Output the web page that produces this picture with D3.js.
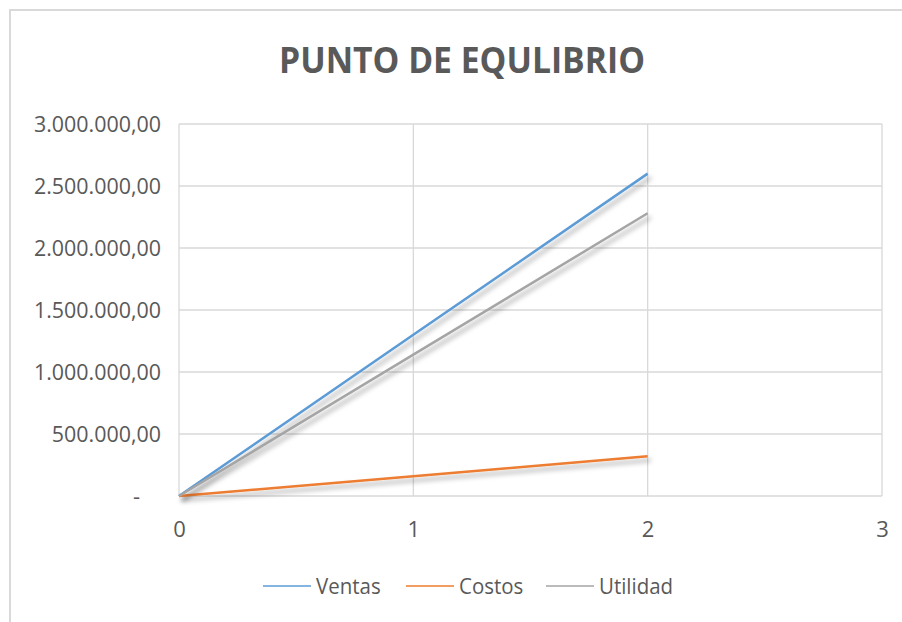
<!DOCTYPE html>
<html>
<head>
<meta charset="utf-8">
<script src="https://cdn.jsdelivr.net/npm/d3@7/dist/d3.min.js"></script>
<style>
  html, body { margin: 0; padding: 0; background: #ffffff; }
  svg { display: block; }
  text { font-family: "Open Sans", "Liberation Sans", sans-serif; fill: #595959; }
</style>
</head>
<body>
<svg id="chart" width="902" height="622"></svg>
<script>
// Break-even chart: sales, costs and profit at 0, 1 and 2 units of volume
const xValues = [0, 1, 2];
const seriesNames = ["Ventas", "Costos", "Utilidad"];
const ventas = [0, 1300000, 2600000];
const costos = [0, 160000, 320000];
const utilidad = [0, 1140000, 2280000];
const xTicks = [0, 1, 2, 3];
const yTicks = [0, 500000, 1000000, 1500000, 2000000, 2500000, 3000000];
const title = "PUNTO DE EQULIBRIO";

const colors = { Ventas: "#5B9BD5", Costos: "#ED7D31", Utilidad: "#A5A5A5" };
const seriesValues = { Ventas: ventas, Costos: costos, Utilidad: utilidad };

const svg = d3.select("#chart");
const W = 902, H = 622;

// condense a text element horizontally by factor k
function condense(sel, k) {
  sel.each(function () {
    const w = this.getComputedTextLength();
    d3.select(this).attr("textLength", w * k).attr("lengthAdjust", "spacingAndGlyphs");
  });
}

// chart frame (only top and left edges fall inside the view)
svg.append("rect")
  .attr("x", 10).attr("y", 10)
  .attr("width", W + 20).attr("height", H + 20)
  .attr("fill", "#ffffff")
  .attr("stroke", "#d9d9d9").attr("stroke-width", 2);

const plot = { left: 179, right: 882, top: 124, bottom: 496 };

const x = d3.scaleLinear().domain([0, 3]).range([plot.left, plot.right]);
const y = d3.scaleLinear().domain([0, 3000000]).range([plot.bottom, plot.top]);

// drop shadow used by the series lines
const defs = svg.append("defs");
const f = defs.append("filter").attr("id", "shadow")
  .attr("x", "-10%").attr("y", "-10%").attr("width", "130%").attr("height", "140%");
f.append("feDropShadow")
  .attr("dx", 3).attr("dy", 4).attr("stdDeviation", 2.5)
  .attr("flood-color", "#000").attr("flood-opacity", 0.35);

// title
svg.append("text")
  .attr("x", 462).attr("y", 73)
  .attr("text-anchor", "middle")
  .attr("font-size", 36).attr("font-weight", "bold")
  .attr("textLength", 366).attr("lengthAdjust", "spacingAndGlyphs")
  .text(title);

// gridlines
const grid = svg.append("g");
grid.selectAll("line.h").data(yTicks).join("line")
  .attr("x1", plot.left).attr("x2", plot.right)
  .attr("y1", d => y(d)).attr("y2", d => y(d))
  .attr("stroke", "#d9d9d9").attr("stroke-width", 1.3);
grid.selectAll("line.v").data(xTicks).join("line")
  .attr("x1", d => x(d)).attr("x2", d => x(d))
  .attr("y1", plot.top).attr("y2", plot.bottom)
  .attr("stroke", "#d9d9d9").attr("stroke-width", 1.3);

// number format: 2.500.000,00 with "-" for zero
const es = d3.formatLocale({ decimal: ",", thousands: ".", grouping: [3], currency: ["", ""] });
const fmt = es.format(",.2f");
const yFormat = d => d === 0 ? "-" : fmt(d);

// y axis
const yAxis = svg.append("g")
  .attr("transform", `translate(${plot.left - 18},0)`)
  .call(d3.axisLeft(y).tickValues(yTicks).tickFormat(yFormat).tickSize(0).tickPadding(0));
yAxis.select(".domain").remove();
const yText = yAxis.selectAll("text")
  .attr("font-size", 22)
  .attr("dy", "0.36em")
  .attr("font-family", null);
// fit the widest label to its measured width
const widest = d3.max(yText.nodes(), n => n.getComputedTextLength());
const ky = 127 / widest;
yText.filter(d => d !== 0).call(condense, ky);
yText.filter(d => d === 0).attr("x", -21);

// x axis
const xAxis = svg.append("g")
  .attr("transform", `translate(0,${plot.bottom})`)
  .call(d3.axisBottom(x).tickValues(xTicks).tickFormat(d3.format("d")).tickSize(0).tickPadding(0));
xAxis.select(".domain").remove();
xAxis.selectAll("text")
  .attr("font-size", 22)
  .attr("y", 41)
  .attr("dy", 0);
svg.selectAll(".tick text").attr("font-family", null).attr("fill", "#595959");

// series lines
const line = d3.line().x((d, i) => x(xValues[i])).y(d => y(d));
const lines = svg.append("g");
seriesNames.forEach(name => {
  lines.append("path")
    .datum(seriesValues[name])
    .attr("d", line)
    .attr("fill", "none")
    .attr("stroke", colors[name])
    .attr("stroke-width", 2.5)
    .attr("filter", "url(#shadow)");
});

// legend
const legendItems = [
  { name: "Ventas", x: 263 },
  { name: "Costos", x: 406 },
  { name: "Utilidad", x: 546 }
];
const legend = svg.append("g");
legendItems.forEach(it => {
  legend.append("line")
    .attr("x1", it.x).attr("x2", it.x + 48)
    .attr("y1", 586).attr("y2", 586)
    .attr("stroke", colors[it.name]).attr("stroke-width", 1.5);
  legend.append("text")
    .attr("x", it.x + 53).attr("y", 594)
    .attr("font-size", 22)
    .text(it.name)
    .call(condense, 0.93);
});
</script>
</body>
</html>
